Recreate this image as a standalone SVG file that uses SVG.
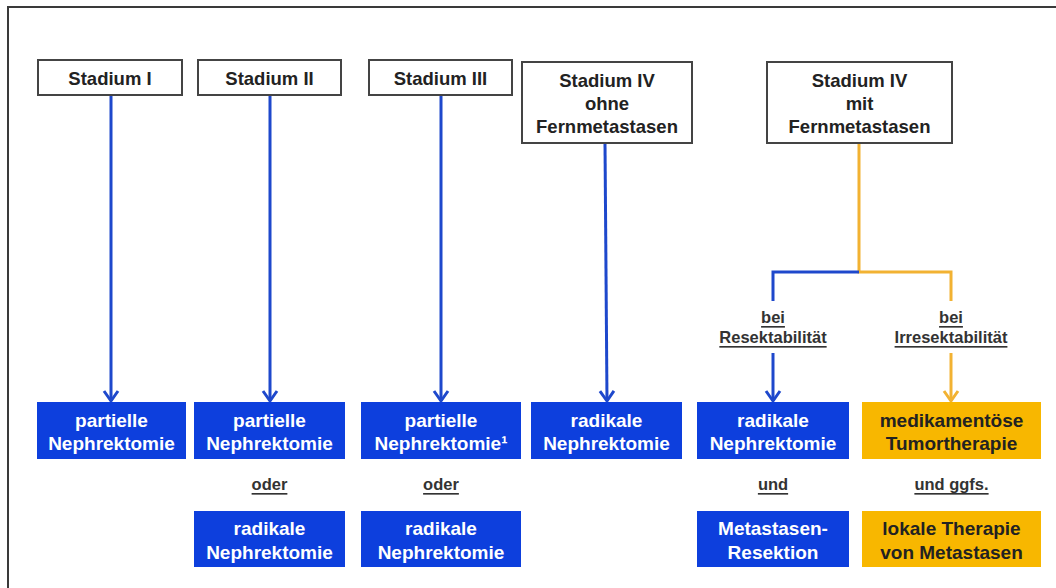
<svg xmlns="http://www.w3.org/2000/svg" width="1056" height="588" viewBox="0 0 1056 588">
<style>
  .frame{fill:none;stroke:#3a3a3a;stroke-width:2}
  .stage{fill:#ffffff;stroke:#444444;stroke-width:2}
  .stxt{font-family:"Liberation Sans",Arial,sans-serif;font-weight:bold;font-size:18.5px;fill:#222222;text-anchor:middle;dominant-baseline:central}
  .bbox{fill:#0d3fdd}
  .obox{fill:#f8b700}
  .btxt{font-family:"Liberation Sans",Arial,sans-serif;font-weight:bold;font-size:19px;fill:#ffffff;text-anchor:middle;dominant-baseline:central}
  .otxt{font-family:"Liberation Sans",Arial,sans-serif;font-weight:bold;font-size:19px;fill:#222222;text-anchor:middle;dominant-baseline:central}
  .lbl{font-family:"Liberation Sans",Arial,sans-serif;font-weight:bold;font-size:16.5px;fill:#333333;text-anchor:middle;dominant-baseline:central;text-decoration:underline}
  .bl{fill:none;stroke:#1e48cc;stroke-width:3}
  .ol{fill:none;stroke:#f2b232;stroke-width:3}
</style>
<defs>
  <marker id="ab" markerUnits="userSpaceOnUse" markerWidth="18" markerHeight="18" refX="13" refY="9" orient="auto" viewBox="0 0 18 18">
    <path d="M3,2 L13,9 L3,16" fill="none" stroke="#1e48cc" stroke-width="3"/>
  </marker>
  <marker id="ao" markerUnits="userSpaceOnUse" markerWidth="18" markerHeight="18" refX="13" refY="9" orient="auto" viewBox="0 0 18 18">
    <path d="M3,2 L13,9 L3,16" fill="none" stroke="#f2b232" stroke-width="3"/>
  </marker>
</defs>
<rect width="1056" height="588" fill="#ffffff"/>
<path class="frame" d="M8,588 L8,7 L1056,7"/>

<g id="connectors">
  <line class="bl" x1="111" y1="95" x2="111" y2="401" marker-end="url(#ab)"/>
  <line class="bl" x1="270" y1="95" x2="270" y2="401" marker-end="url(#ab)"/>
  <line class="bl" x1="441" y1="95" x2="441" y2="401" marker-end="url(#ab)"/>
  <line class="bl" x1="605" y1="143" x2="607" y2="401" marker-end="url(#ab)"/>
  <path class="ol" d="M859,143 L859,272 L951,272 L951,301"/>
  <path class="bl" d="M859,272 L773,272 L773,301"/>
  <line class="bl" x1="773" y1="353" x2="773" y2="401" marker-end="url(#ab)"/>
  <line class="ol" x1="951" y1="353" x2="951" y2="401" marker-end="url(#ao)"/>
</g>

<g id="stadium1">
  <rect class="stage" x="38" y="60" width="144" height="35"/>
  <text class="stxt" x="110" y="78">Stadium I</text>
</g>
<g id="stadium2">
  <rect class="stage" x="198" y="60" width="143" height="35"/>
  <text class="stxt" x="269.5" y="78">Stadium II</text>
</g>
<g id="stadium3">
  <rect class="stage" x="369" y="60" width="143" height="35"/>
  <text class="stxt" x="440.5" y="78">Stadium III</text>
</g>
<g id="stadium4ohne">
  <rect class="stage" x="522" y="62" width="170" height="81"/>
  <text class="stxt" x="607" y="80">Stadium IV</text>
  <text class="stxt" x="607" y="103">ohne</text>
  <text class="stxt" x="607" y="126">Fernmetastasen</text>
</g>
<g id="stadium4mit">
  <rect class="stage" x="767" y="62" width="185" height="81"/>
  <text class="stxt" x="859.5" y="80">Stadium IV</text>
  <text class="stxt" x="859.5" y="103">mit</text>
  <text class="stxt" x="859.5" y="126">Fernmetastasen</text>
</g>

<g id="label-resekt">
  <text class="lbl" x="773" y="317">bei</text>
  <text class="lbl" x="773" y="337">Resektabilität</text>
</g>
<g id="label-irresekt">
  <text class="lbl" x="951" y="317">bei</text>
  <text class="lbl" x="951" y="337">Irresektabilität</text>
</g>

<g id="r1-partiell">
  <rect class="bbox" x="37" y="402" width="149" height="57"/>
  <text class="btxt" x="111.5" y="420">partielle</text>
  <text class="btxt" x="111.5" y="443">Nephrektomie</text>
</g>
<g id="r2-partiell">
  <rect class="bbox" x="194" y="402" width="151" height="57"/>
  <text class="btxt" x="269.5" y="420">partielle</text>
  <text class="btxt" x="269.5" y="443">Nephrektomie</text>
</g>
<g id="r3-partiell">
  <rect class="bbox" x="361" y="402" width="160" height="57"/>
  <text class="btxt" x="441" y="420">partielle</text>
  <text class="btxt" x="441" y="443">Nephrektomie¹</text>
</g>
<g id="r4-radikal">
  <rect class="bbox" x="531" y="402" width="151" height="57"/>
  <text class="btxt" x="606.5" y="420">radikale</text>
  <text class="btxt" x="606.5" y="443">Nephrektomie</text>
</g>
<g id="r5-radikal">
  <rect class="bbox" x="697" y="402" width="152" height="57"/>
  <text class="btxt" x="773" y="420">radikale</text>
  <text class="btxt" x="773" y="443">Nephrektomie</text>
</g>
<g id="r6-medikament">
  <rect class="obox" x="862" y="402" width="179" height="57"/>
  <text class="otxt" x="951.5" y="420">medikamentöse</text>
  <text class="otxt" x="951.5" y="443">Tumortherapie</text>
</g>

<g id="conj-labels">
  <text class="lbl" x="269.5" y="484">oder</text>
  <text class="lbl" x="441" y="484">oder</text>
  <text class="lbl" x="773" y="484">und</text>
  <text class="lbl" x="951.5" y="484">und ggfs.</text>
</g>

<g id="r2-radikal">
  <rect class="bbox" x="194" y="511" width="151" height="56"/>
  <text class="btxt" x="269.5" y="528">radikale</text>
  <text class="btxt" x="269.5" y="552">Nephrektomie</text>
</g>
<g id="r3-radikal">
  <rect class="bbox" x="361" y="511" width="160" height="56"/>
  <text class="btxt" x="441" y="528">radikale</text>
  <text class="btxt" x="441" y="552">Nephrektomie</text>
</g>
<g id="r5-metastasen">
  <rect class="bbox" x="697" y="511" width="152" height="56"/>
  <text class="btxt" x="773" y="528">Metastasen-</text>
  <text class="btxt" x="773" y="552">Resektion</text>
</g>
<g id="r6-lokal">
  <rect class="obox" x="862" y="511" width="179" height="56"/>
  <text class="otxt" x="951.5" y="528">lokale Therapie</text>
  <text class="otxt" x="951.5" y="552">von Metastasen</text>
</g>
</svg>
